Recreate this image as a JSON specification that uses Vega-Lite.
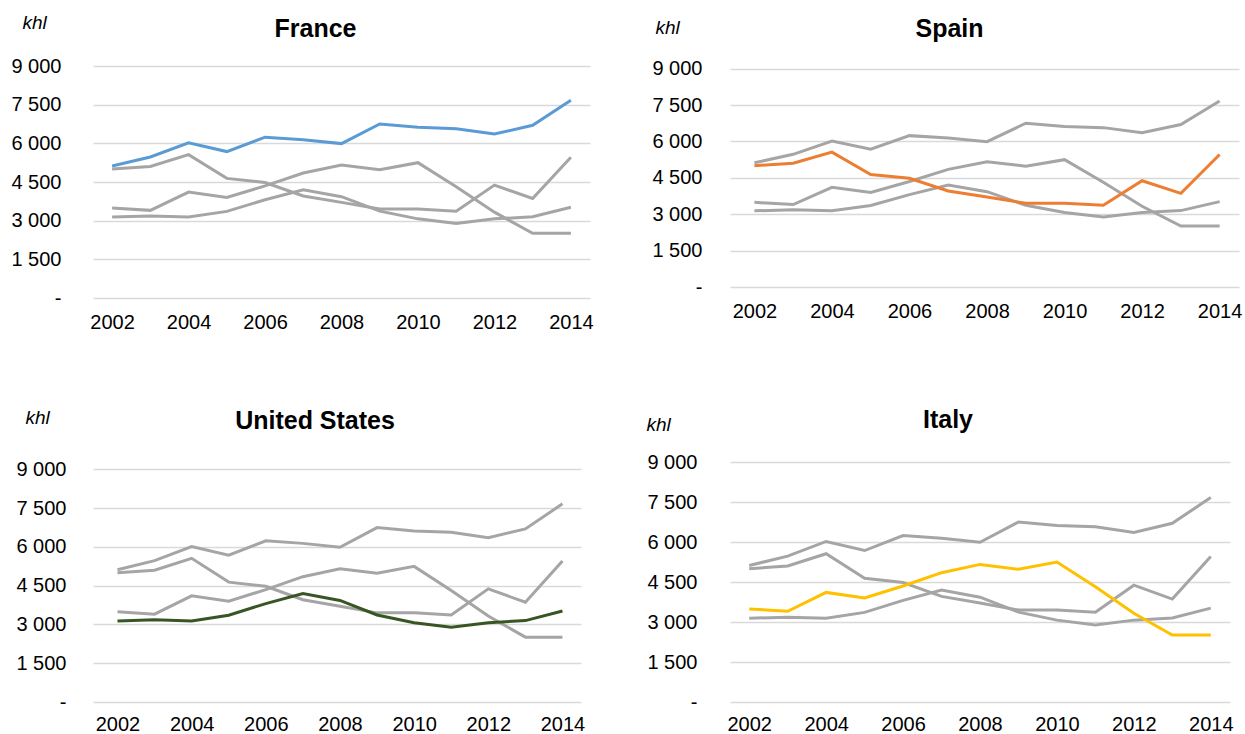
{
  "$schema": "https://vega.github.io/schema/vega-lite/v6.json",
  "background": "white",
  "padding": {"left": 10, "top": 13, "right": 5, "bottom": 0},
  "config": {
    "font": "Liberation Sans",
    "view": {"stroke": null},
    "title": {"fontSize": 25, "fontWeight": "bold", "color": "black", "anchor": "middle", "frame": "group", "baseline": "alphabetic"},
    "axisY": {
      "domain": false, "ticks": false, "grid": true, "gridColor": "#d9d9d9", "gridWidth": 1.5,
      "labelFontSize": 20, "labelColor": "black",
      "labelExpr": "datum.value == 0 ? '-' : replace(format(datum.value, ',d'), ',', ' ')",
      "titleAngle": 0, "titleAlign": "left", "titleBaseline": "alphabetic",
      "titleFontStyle": "italic", "titleFontWeight": "normal", "titleFontSize": 19, "titleColor": "black"
    },
    "axisX": {
      "domain": false, "ticks": false, "grid": false, "labelFontSize": 20, "labelColor": "black",
      "labelPadding": 14, "labelOverlap": false, "labelFlush": false, "title": null
    }
  },
  "datasets": {
    "wine": [
      {"country": "France", "year": 2002, "value": 5120},
      {"country": "France", "year": 2003, "value": 5470},
      {"country": "France", "year": 2004, "value": 6020},
      {"country": "France", "year": 2005, "value": 5680},
      {"country": "France", "year": 2006, "value": 6240},
      {"country": "France", "year": 2007, "value": 6140},
      {"country": "France", "year": 2008, "value": 5990},
      {"country": "France", "year": 2009, "value": 6750},
      {"country": "France", "year": 2010, "value": 6620},
      {"country": "France", "year": 2011, "value": 6570},
      {"country": "France", "year": 2012, "value": 6360},
      {"country": "France", "year": 2013, "value": 6700},
      {"country": "France", "year": 2014, "value": 7670},
      {"country": "Spain", "year": 2002, "value": 5000},
      {"country": "Spain", "year": 2003, "value": 5100},
      {"country": "Spain", "year": 2004, "value": 5560},
      {"country": "Spain", "year": 2005, "value": 4640},
      {"country": "Spain", "year": 2006, "value": 4480},
      {"country": "Spain", "year": 2007, "value": 3960},
      {"country": "Spain", "year": 2008, "value": 3710},
      {"country": "Spain", "year": 2009, "value": 3450},
      {"country": "Spain", "year": 2010, "value": 3450},
      {"country": "Spain", "year": 2011, "value": 3370},
      {"country": "Spain", "year": 2012, "value": 4380},
      {"country": "Spain", "year": 2013, "value": 3860},
      {"country": "Spain", "year": 2014, "value": 5460},
      {"country": "United States", "year": 2002, "value": 3140},
      {"country": "United States", "year": 2003, "value": 3180},
      {"country": "United States", "year": 2004, "value": 3140},
      {"country": "United States", "year": 2005, "value": 3360},
      {"country": "United States", "year": 2006, "value": 3810},
      {"country": "United States", "year": 2007, "value": 4200},
      {"country": "United States", "year": 2008, "value": 3930},
      {"country": "United States", "year": 2009, "value": 3370},
      {"country": "United States", "year": 2010, "value": 3070},
      {"country": "United States", "year": 2011, "value": 2890},
      {"country": "United States", "year": 2012, "value": 3070},
      {"country": "United States", "year": 2013, "value": 3150},
      {"country": "United States", "year": 2014, "value": 3520},
      {"country": "Italy", "year": 2002, "value": 3490},
      {"country": "Italy", "year": 2003, "value": 3400},
      {"country": "Italy", "year": 2004, "value": 4110},
      {"country": "Italy", "year": 2005, "value": 3900},
      {"country": "Italy", "year": 2006, "value": 4350},
      {"country": "Italy", "year": 2007, "value": 4850},
      {"country": "Italy", "year": 2008, "value": 5160},
      {"country": "Italy", "year": 2009, "value": 4980},
      {"country": "Italy", "year": 2010, "value": 5250},
      {"country": "Italy", "year": 2011, "value": 4320},
      {"country": "Italy", "year": 2012, "value": 3330},
      {"country": "Italy", "year": 2013, "value": 2510},
      {"country": "Italy", "year": 2014, "value": 2510}
    ]
  },
  "columns": 2,
  "bounds": "flush",
  "align": "all",
  "spacing": {"row": 156, "column": 128},
  "concat": [
    {
      "title": {"text": "France", "dx": -26, "offset": -29},
      "width": 497, "height": 232,
      "data": {"name": "wine"},
      "encoding": {
        "x": {"field": "year", "type": "quantitative", "scale": {"domain": [2001.5, 2014.5], "nice": false, "zero": false}, "axis": {"values": [2002, 2004, 2006, 2008, 2010, 2012, 2014], "format": "d"}},
        "y": {"field": "value", "type": "quantitative", "scale": {"domain": [0, 9000], "nice": false}, "axis": {"values": [0, 1500, 3000, 4500, 6000, 7500, 9000], "title": "khl", "titleX": -71, "titleY": -37.7, "labelPadding": 32}}
      },
      "layer": [
        {"transform": [{"filter": "datum.country != 'France'"}], "mark": {"type": "line", "color": "#a5a5a5", "strokeWidth": 3}, "encoding": {"detail": {"field": "country"}}},
        {"transform": [{"filter": "datum.country == 'France'"}], "mark": {"type": "line", "color": "#5b9bd5", "strokeWidth": 3}, "encoding": {}}
      ]
    },
    {
      "title": {"text": "Spain", "dx": -35, "offset": -24},
      "width": 509, "height": 221,
      "data": {"name": "wine"},
      "encoding": {
        "x": {"field": "year", "type": "quantitative", "scale": {"domain": [2001.37, 2014.5], "nice": false, "zero": false}, "axis": {"values": [2002, 2004, 2006, 2008, 2010, 2012, 2014], "format": "d"}},
        "y": {"field": "value", "type": "quantitative", "scale": {"domain": [0, 9111], "nice": false}, "axis": {"values": [0, 1500, 3000, 4500, 6000, 7500, 9000], "title": "khl", "titleX": -75, "titleY": -32.7, "labelPadding": 28}}
      },
      "layer": [
        {"transform": [{"filter": "datum.country != 'Spain'"}], "mark": {"type": "line", "color": "#a5a5a5", "strokeWidth": 3}, "encoding": {"detail": {"field": "country"}}},
        {"transform": [{"filter": "datum.country == 'Spain'"}], "mark": {"type": "line", "color": "#ed7d31", "strokeWidth": 3}, "encoding": {}}
      ]
    },
    {
      "title": {"text": "United States", "dx": -22, "offset": -26},
      "width": 488, "height": 240,
      "data": {"name": "wine"},
      "encoding": {
        "x": {"field": "year", "type": "quantitative", "scale": {"domain": [2001.34, 2014.5], "nice": false, "zero": false}, "axis": {"values": [2002, 2004, 2006, 2008, 2010, 2012, 2014], "format": "d", "labelPadding": 12}},
        "y": {"field": "value", "type": "quantitative", "scale": {"domain": [0, 9290], "nice": false}, "axis": {"values": [0, 1500, 3000, 4500, 6000, 7500, 9000], "title": "khl", "titleX": -68, "titleY": -39, "labelPadding": 27}}
      },
      "layer": [
        {"transform": [{"filter": "datum.country != 'United States'"}], "mark": {"type": "line", "color": "#a5a5a5", "strokeWidth": 3}, "encoding": {"detail": {"field": "country"}}},
        {"transform": [{"filter": "datum.country == 'United States'"}], "mark": {"type": "line", "color": "#375623", "strokeWidth": 3}, "encoding": {}}
      ]
    },
    {
      "title": {"text": "Italy", "dx": -32, "offset": -18},
      "width": 500, "height": 240,
      "data": {"name": "wine"},
      "encoding": {
        "x": {"field": "year", "type": "quantitative", "scale": {"domain": [2001.5, 2014.5], "nice": false, "zero": false}, "axis": {"values": [2002, 2004, 2006, 2008, 2010, 2012, 2014], "format": "d", "labelPadding": 12}},
        "y": {"field": "value", "type": "quantitative", "scale": {"domain": [0, 9000], "nice": false}, "axis": {"values": [0, 1500, 3000, 4500, 6000, 7500, 9000], "title": "khl", "titleX": -84, "titleY": -32, "labelPadding": 33}}
      },
      "layer": [
        {"transform": [{"filter": "datum.country != 'Italy'"}], "mark": {"type": "line", "color": "#a5a5a5", "strokeWidth": 3}, "encoding": {"detail": {"field": "country"}}},
        {"transform": [{"filter": "datum.country == 'Italy'"}], "mark": {"type": "line", "color": "#ffc000", "strokeWidth": 3}, "encoding": {}}
      ]
    }
  ]
}
